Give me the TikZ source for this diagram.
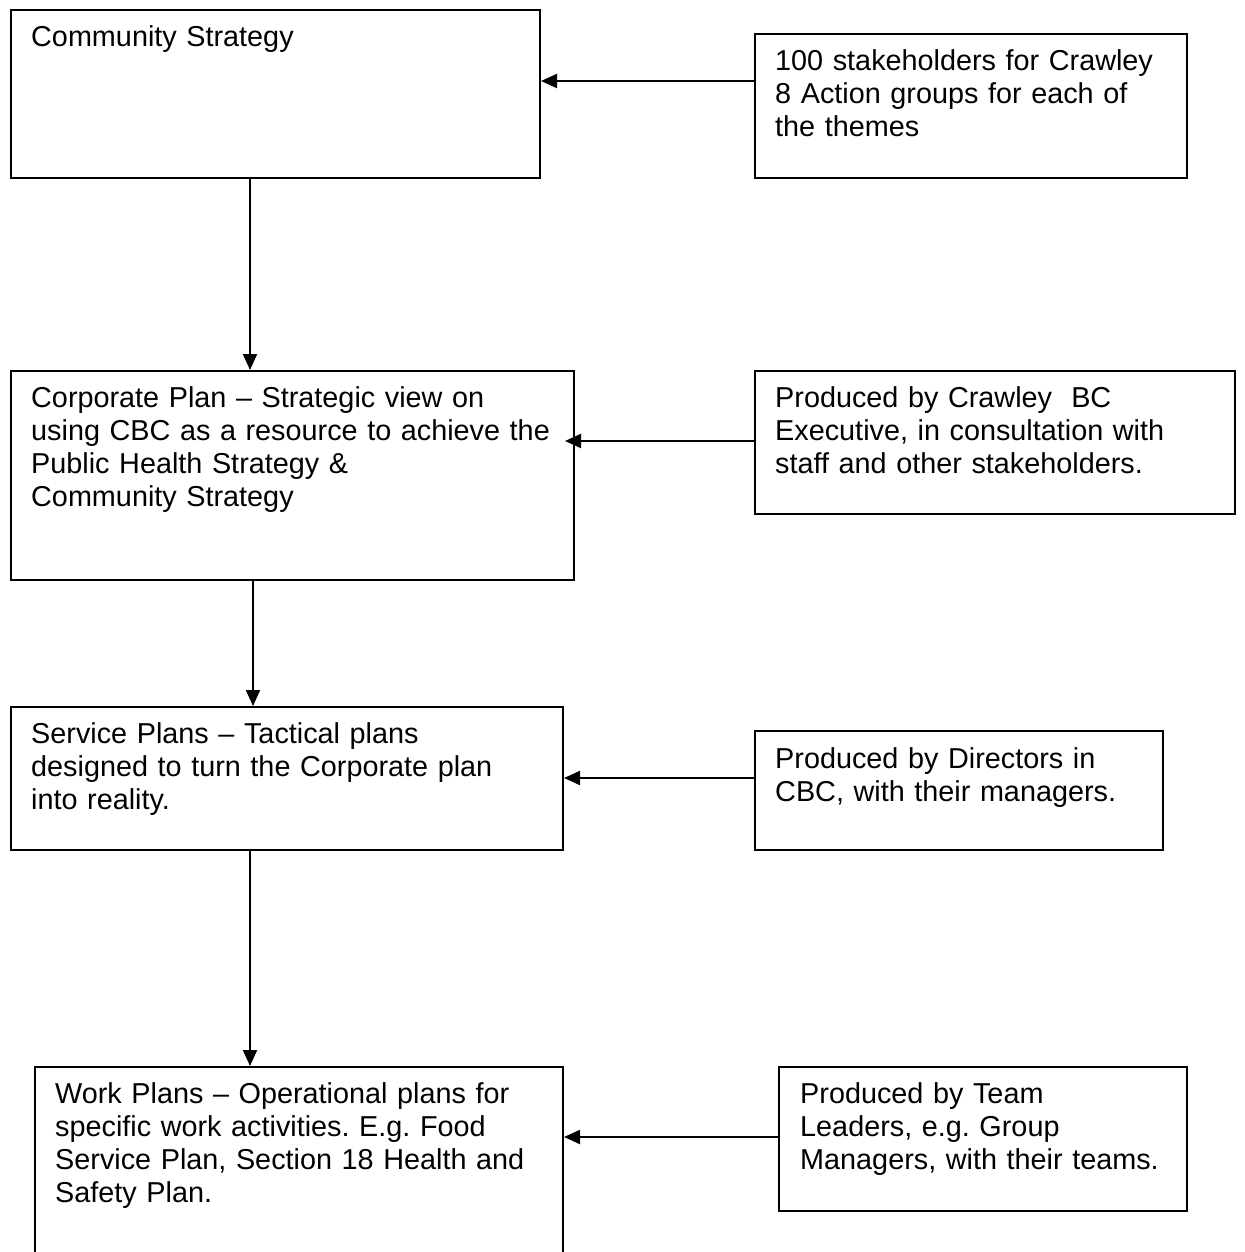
\documentclass[tikz,border=0pt]{standalone}
\usepackage{fontspec}
\setmainfont{Liberation Sans}
\usetikzlibrary{arrows.meta}
\frenchspacing
\begin{document}
\begin{tikzpicture}[x=1pt,y=-1pt,
  box/.style={draw, line width=2pt, inner sep=0pt, anchor=north west},
  txt/.style={anchor=base west, inner sep=0pt, text width=600pt, align=left,
    font=\fontsize{28.8}{33}\selectfont\frenchspacing},
  arr/.style={line width=2pt, -{Triangle[length=16pt,width=14pt]}}]
\fill[white] (0,0) rectangle (1244,1252);
\clip (0,0) rectangle (1244,1252);
% left column boxes
\node[box, minimum width=529, minimum height=168] (b1) at (10,9) {};
\node[box, minimum width=563, minimum height=209] (b2) at (10,370) {};
\node[box, minimum width=552, minimum height=143] (b3) at (10,706) {};
\node[box, minimum width=528, minimum height=240] (b4) at (34,1066) {};
% right column boxes
\node[box, minimum width=432, minimum height=144] (r1) at (754,33) {};
\node[box, minimum width=480, minimum height=143] (r2) at (754,370) {};
\node[box, minimum width=408, minimum height=119] (r3) at (754,730) {};
\node[box, minimum width=408, minimum height=144] (r4) at (778,1066) {};
% texts
\node[txt] (t1) at (31,47) {Community Strategy};
\node[txt] (t2) at (31,407) {Corporate Plan – Strategic view on\\using CBC as a resource to achieve the\\Public Health Strategy \&\\Community Strategy};
\node[txt] (t3) at (31,743) {Service Plans – Tactical plans\\designed to turn the Corporate plan\\into reality.};
\node[txt] (t4) at (55,1103) {Work Plans – Operational plans for\\specific work activities. E.g. Food\\Service Plan, Section 18 Health and\\Safety Plan.};
\node[txt] (s1) at (775,71) {100 stakeholders for Crawley\\8 Action groups for each of\\the themes};
\node[txt] (s2) at (775,407) {Produced by Crawley\ \ BC\\Executive, in consultation with\\staff and other stakeholders.};
\node[txt] (s3) at (775,768) {Produced by Directors in\\CBC, with their managers.};
\node[txt] (s4) at (800,1103) {Produced by Team\\Leaders, e.g. Group\\Managers, with their teams.};
% vertical connectors
\draw[arr] (b1.south -| 250,0) -- (b2.north -| 250,0);
\draw[arr] (b2.south -| 253,0) -- (b3.north -| 253,0);
\draw[arr] (b3.south -| 250,0) -- (b4.north -| 250,0);
% horizontal connectors
\draw[arr] (r1.west |- 0,81) -- (b1.east |- 0,81);
\draw[arr, shorten >=-10pt] (r2.west |- 0,441) -- (b2.east |- 0,441);
\draw[arr] (r3.west |- 0,778) -- (b3.east |- 0,778);
\draw[arr] (r4.west |- 0,1137) -- (b4.east |- 0,1137);
\end{tikzpicture}
\end{document}
